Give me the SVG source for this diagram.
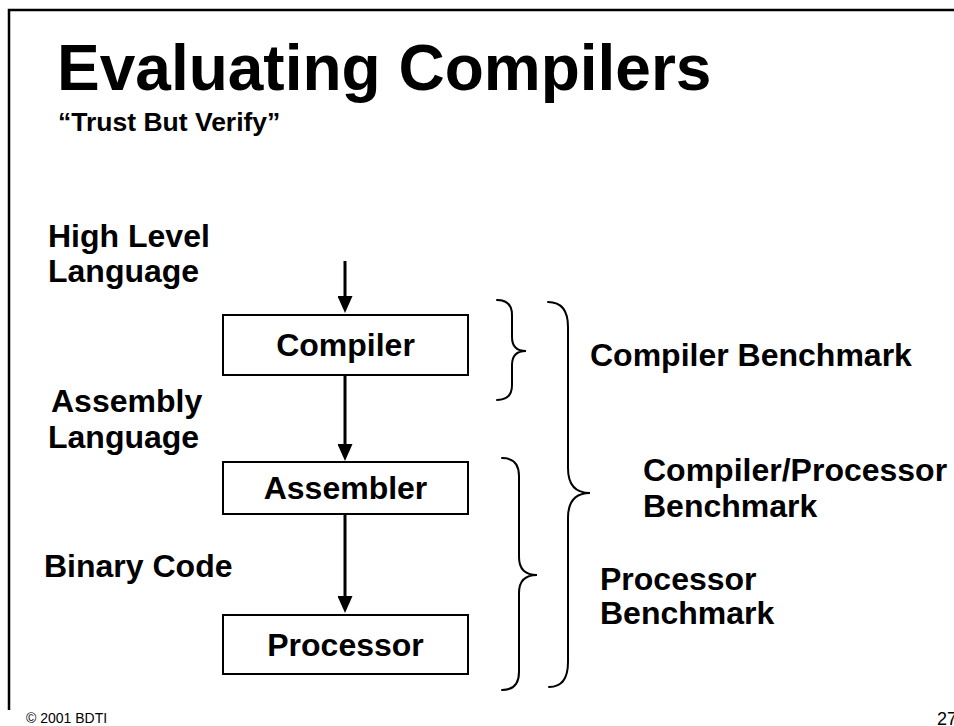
<svg xmlns="http://www.w3.org/2000/svg" width="954" height="726" viewBox="0 0 954 726">
  <style>
    text { font-family: "Liberation Sans", Arial, sans-serif; fill: #000; }
    .title { font-size: 64px; font-weight: bold; }
    .subtitle { font-size: 26.5px; font-weight: bold; }
    .label { font-size: 32px; font-weight: bold; }
    .box { fill: #fff; stroke: #000; stroke-width: 2; }
    .flow { stroke: #000; stroke-width: 3; fill: none; }
    .brace { stroke: #000; stroke-width: 2; fill: none; stroke-linecap: round; }
    .foot { font-size: 14px; }
  </style>
  <defs>
    <marker id="head" markerUnits="userSpaceOnUse" markerWidth="17" markerHeight="15" viewBox="0 0 17 15" refX="7" refY="7.5" orient="auto">
      <path d="M0,0 L17,7.5 L0,15 z" fill="#000"/>
    </marker>
  </defs>
  <rect width="954" height="726" fill="#fff"/>

  <!-- slide frame -->
  <path d="M9,710 V10 H954" fill="none" stroke="#000" stroke-width="2.5"/>

  <!-- heading -->
  <text class="title" x="57" y="90">Evaluating Compilers</text>
  <text class="subtitle" x="58" y="131">“Trust But Verify”</text>

  <!-- flow arrows -->
  <g id="connectors">
    <line class="flow" x1="345" y1="261" x2="345" y2="303" marker-end="url(#head)"/>
    <line class="flow" x1="345" y1="375" x2="345" y2="451" marker-end="url(#head)"/>
    <line class="flow" x1="345" y1="514" x2="345" y2="603" marker-end="url(#head)"/>
  </g>

  <!-- stages -->
  <g id="compiler">
    <rect class="box" x="223" y="315" width="245" height="60"/>
    <text class="label" x="345.5" y="356" text-anchor="middle">Compiler</text>
  </g>
  <g id="assembler">
    <rect class="box" x="223" y="462" width="245" height="52"/>
    <text class="label" x="345.5" y="499" text-anchor="middle">Assembler</text>
  </g>
  <g id="processor">
    <rect class="box" x="223" y="615" width="245" height="59"/>
    <text class="label" x="345.5" y="656" text-anchor="middle">Processor</text>
  </g>

  <!-- data forms between stages -->
  <g id="hll">
    <text class="label" x="48" y="247">High Level</text>
    <text class="label" x="48" y="282">Language</text>
  </g>
  <g id="asm">
    <text class="label" x="51" y="412">Assembly</text>
    <text class="label" x="48" y="448">Language</text>
  </g>
  <g id="bin">
    <text class="label" x="44" y="577">Binary Code</text>
  </g>

  <!-- benchmark scopes -->
  <g id="braces">
    <path class="brace" d="M497,300 Q512,300 512,315 V337 Q512,351 526,351 Q512,351 512,365 V385 Q512,400 497,400"/>
    <path class="brace" d="M548,302 Q568,302 568,327 V468 Q568,493 590,493 Q568,493 568,518 V662 Q568,687 549,687"/>
    <path class="brace" d="M502,458 Q519,458 519,476 V557 Q519,575 537,575 Q519,575 519,593 V672 Q519,690 502,690"/>
  </g>

  <g id="compiler-bench">
    <text class="label" x="590" y="366">Compiler Benchmark</text>
  </g>
  <g id="system-bench">
    <text class="label" x="643" y="481">Compiler/Processor</text>
    <text class="label" x="643" y="517">Benchmark</text>
  </g>
  <g id="processor-bench">
    <text class="label" x="600" y="590">Processor</text>
    <text class="label" x="600" y="624">Benchmark</text>
  </g>

  <!-- footer -->
  <text class="foot" x="26" y="723">© 2001 BDTI</text>
  <text x="937" y="725" font-size="18">27</text>
</svg>
